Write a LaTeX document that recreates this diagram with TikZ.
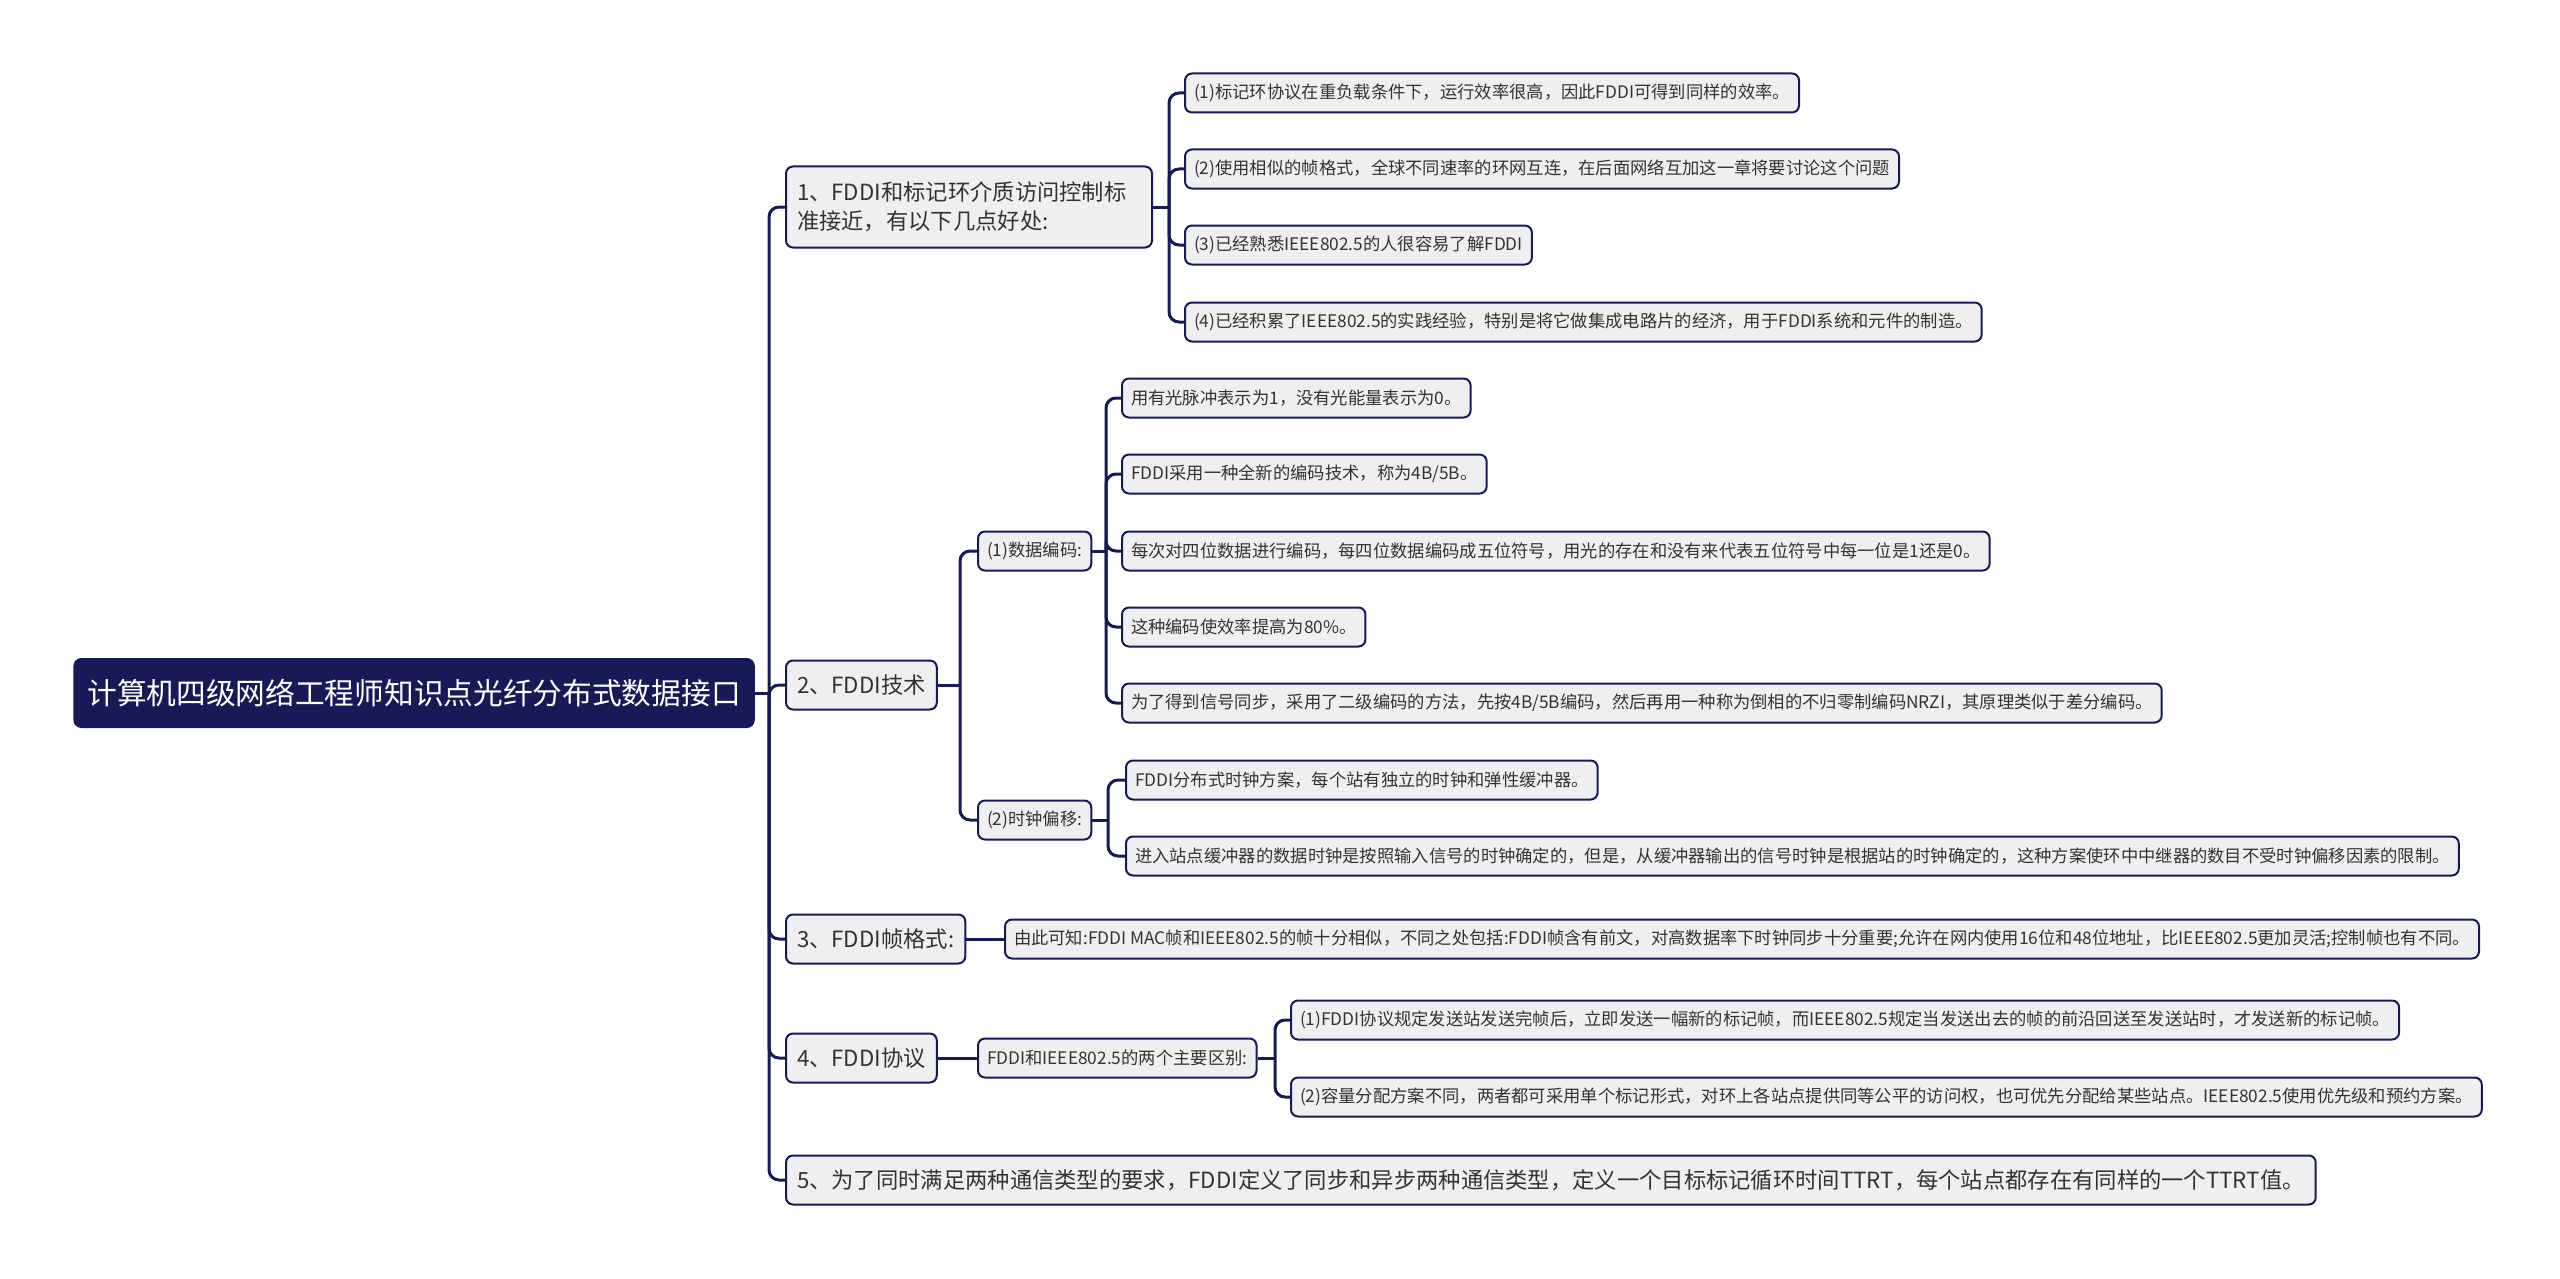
\documentclass[tikz,border=0pt]{standalone}
\usepackage{fontspec}
\setmainfont{Noto Sans CJK SC}
\usetikzlibrary{positioning}
\definecolor{navy}{HTML}{161B57}
\definecolor{boxgray}{HTML}{EFEFF1}
\definecolor{ink}{HTML}{333333}
\newcommand{\branch}[2]{\draw[link] (#1) |- (#2.west);}

\begin{document}
\begin{tikzpicture}
  [x=0.5pt,y=-0.5pt,
  rootbox/.style={rectangle,rounded corners=4pt,fill=navy,text=white,font=\fontsize{14.85}{17}\selectfont,minimum height=35pt,inner xsep=7pt,anchor=west},
  topic/.style={rectangle,rounded corners=3.5pt,draw=navy,line width=1pt,fill=boxgray,text=ink,font=\fontsize{11.15}{14.7}\selectfont,minimum height=24.5pt,inner xsep=5.5pt,align=left,anchor=west},
  leaf/.style={topic,font=\fontsize{8.65}{11}\selectfont,minimum height=19.5pt,inner xsep=4.5pt},
  link/.style={draw=navy,line width=1.5pt,rounded corners=5pt},
  ]
  \useasboundingbox (0,0) rectangle (2560,1279);

  \node[rootbox] (main) at (73,693) {计算机四级网络工程师知识点光纤分布式数据接口};

  \node[topic,minimum height=40.5pt,text width=172pt] (n1) at (785,207) {1、FDDI和标记环介质访问控制标\\准接近，有以下几点好处:};
  \node[topic] (n2) at (785,685) {2、FDDI技术};
  \node[topic] (n3) at (785,939) {3、FDDI帧格式:};
  \node[topic] (n4) at (785,1058) {4、FDDI协议};
  \node[topic] (n5) at (785,1180) {5、为了同时满足两种通信类型的要求，FDDI定义了同步和异步两种通信类型，定义一个目标标记循环时间TTRT，每个站点都存在有同样的一个TTRT值。};

  \node[leaf] (n1a) at (1184,93) {(1)标记环协议在重负载条件下，运行效率很高，因此FDDI可得到同样的效率。};
  \node[leaf] (n1b) at (1184,169) {(2)使用相似的帧格式，全球不同速率的环网互连，在后面网络互加这一章将要讨论这个问题};
  \node[leaf] (n1c) at (1184,245) {(3)已经熟悉IEEE802.5的人很容易了解FDDI};
  \node[leaf] (n1d) at (1184,322) {(4)已经积累了IEEE802.5的实践经验，特别是将它做集成电路片的经济，用于FDDI系统和元件的制造。};

  \node[leaf] (dat) at (977,551) {(1)数据编码:};
  \node[leaf] (clk) at (977,820) {(2)时钟偏移:};
  \node[leaf] (d1) at (1121,398) {用有光脉冲表示为1，没有光能量表示为0。};
  \node[leaf] (d2) at (1121,474) {FDDI采用一种全新的编码技术，称为4B/5B。};
  \node[leaf] (d3) at (1121,551) {每次对四位数据进行编码，每四位数据编码成五位符号，用光的存在和没有来代表五位符号中每一位是1还是0。};
  \node[leaf] (d4) at (1121,627) {这种编码使效率提高为80\%。};
  \node[leaf] (d5) at (1121,703) {为了得到信号同步，采用了二级编码的方法，先按4B/5B编码，然后再用一种称为倒相的不归零制编码NRZI，其原理类似于差分编码。};
  \node[leaf] (c1) at (1125,780) {FDDI分布式时钟方案，每个站有独立的时钟和弹性缓冲器。};
  \node[leaf] (c2) at (1125,856) {进入站点缓冲器的数据时钟是按照输入信号的时钟确定的，但是，从缓冲器输出的信号时钟是根据站的时钟确定的，这种方案使环中中继器的数目不受时钟偏移因素的限制。};

  \node[leaf] (n3a) at (1004,939) {由此可知:FDDI MAC帧和IEEE802.5的帧十分相似，不同之处包括:FDDI帧含有前文，对高数据率下时钟同步十分重要;允许在网内使用16位和48位地址，比IEEE802.5更加灵活;控制帧也有不同。};

  \node[leaf] (n4a) at (977,1058) {FDDI和IEEE802.5的两个主要区别:};
  \node[leaf] (n4b) at (1290,1020) {(1)FDDI协议规定发送站发送完帧后，立即发送一幅新的标记帧，而IEEE802.5规定当发送出去的帧的前沿回送至发送站时，才发送新的标记帧。};
  \node[leaf] (n4c) at (1290,1097) {(2)容量分配方案不同，两者都可采用单个标记形式，对环上各站点提供同等公平的访问权，也可优先分配给某些站点。IEEE802.5使用优先级和预约方案。};

  \coordinate (t0) at (769,693);
  \coordinate (t1) at (1169,207);
  \coordinate (t2) at (960,685);
  \coordinate (t3) at (1106,551);
  \coordinate (t4) at (1108,820);
  \coordinate (t5) at (1275,1058);

  \draw[link] (main) -- (t0);
  \branch{t0}{n1} \branch{t0}{n2} \branch{t0}{n3} \branch{t0}{n4} \branch{t0}{n5}
  \draw[link] (n1) -- (t1);
  \branch{t1}{n1a} \branch{t1}{n1b} \branch{t1}{n1c} \branch{t1}{n1d}
  \draw[link] (n2) -- (t2);
  \branch{t2}{dat} \branch{t2}{clk}
  \draw[link] (dat) -- (t3);
  \branch{t3}{d1} \branch{t3}{d2} \branch{t3}{d3} \branch{t3}{d4} \branch{t3}{d5}
  \draw[link] (clk) -- (t4);
  \branch{t4}{c1} \branch{t4}{c2}
  \draw[link] (n3) -- (n3a);
  \draw[link] (n4) -- (n4a);
  \draw[link] (n4a) -- (t5);
  \branch{t5}{n4b} \branch{t5}{n4c}
\end{tikzpicture}
\end{document}
